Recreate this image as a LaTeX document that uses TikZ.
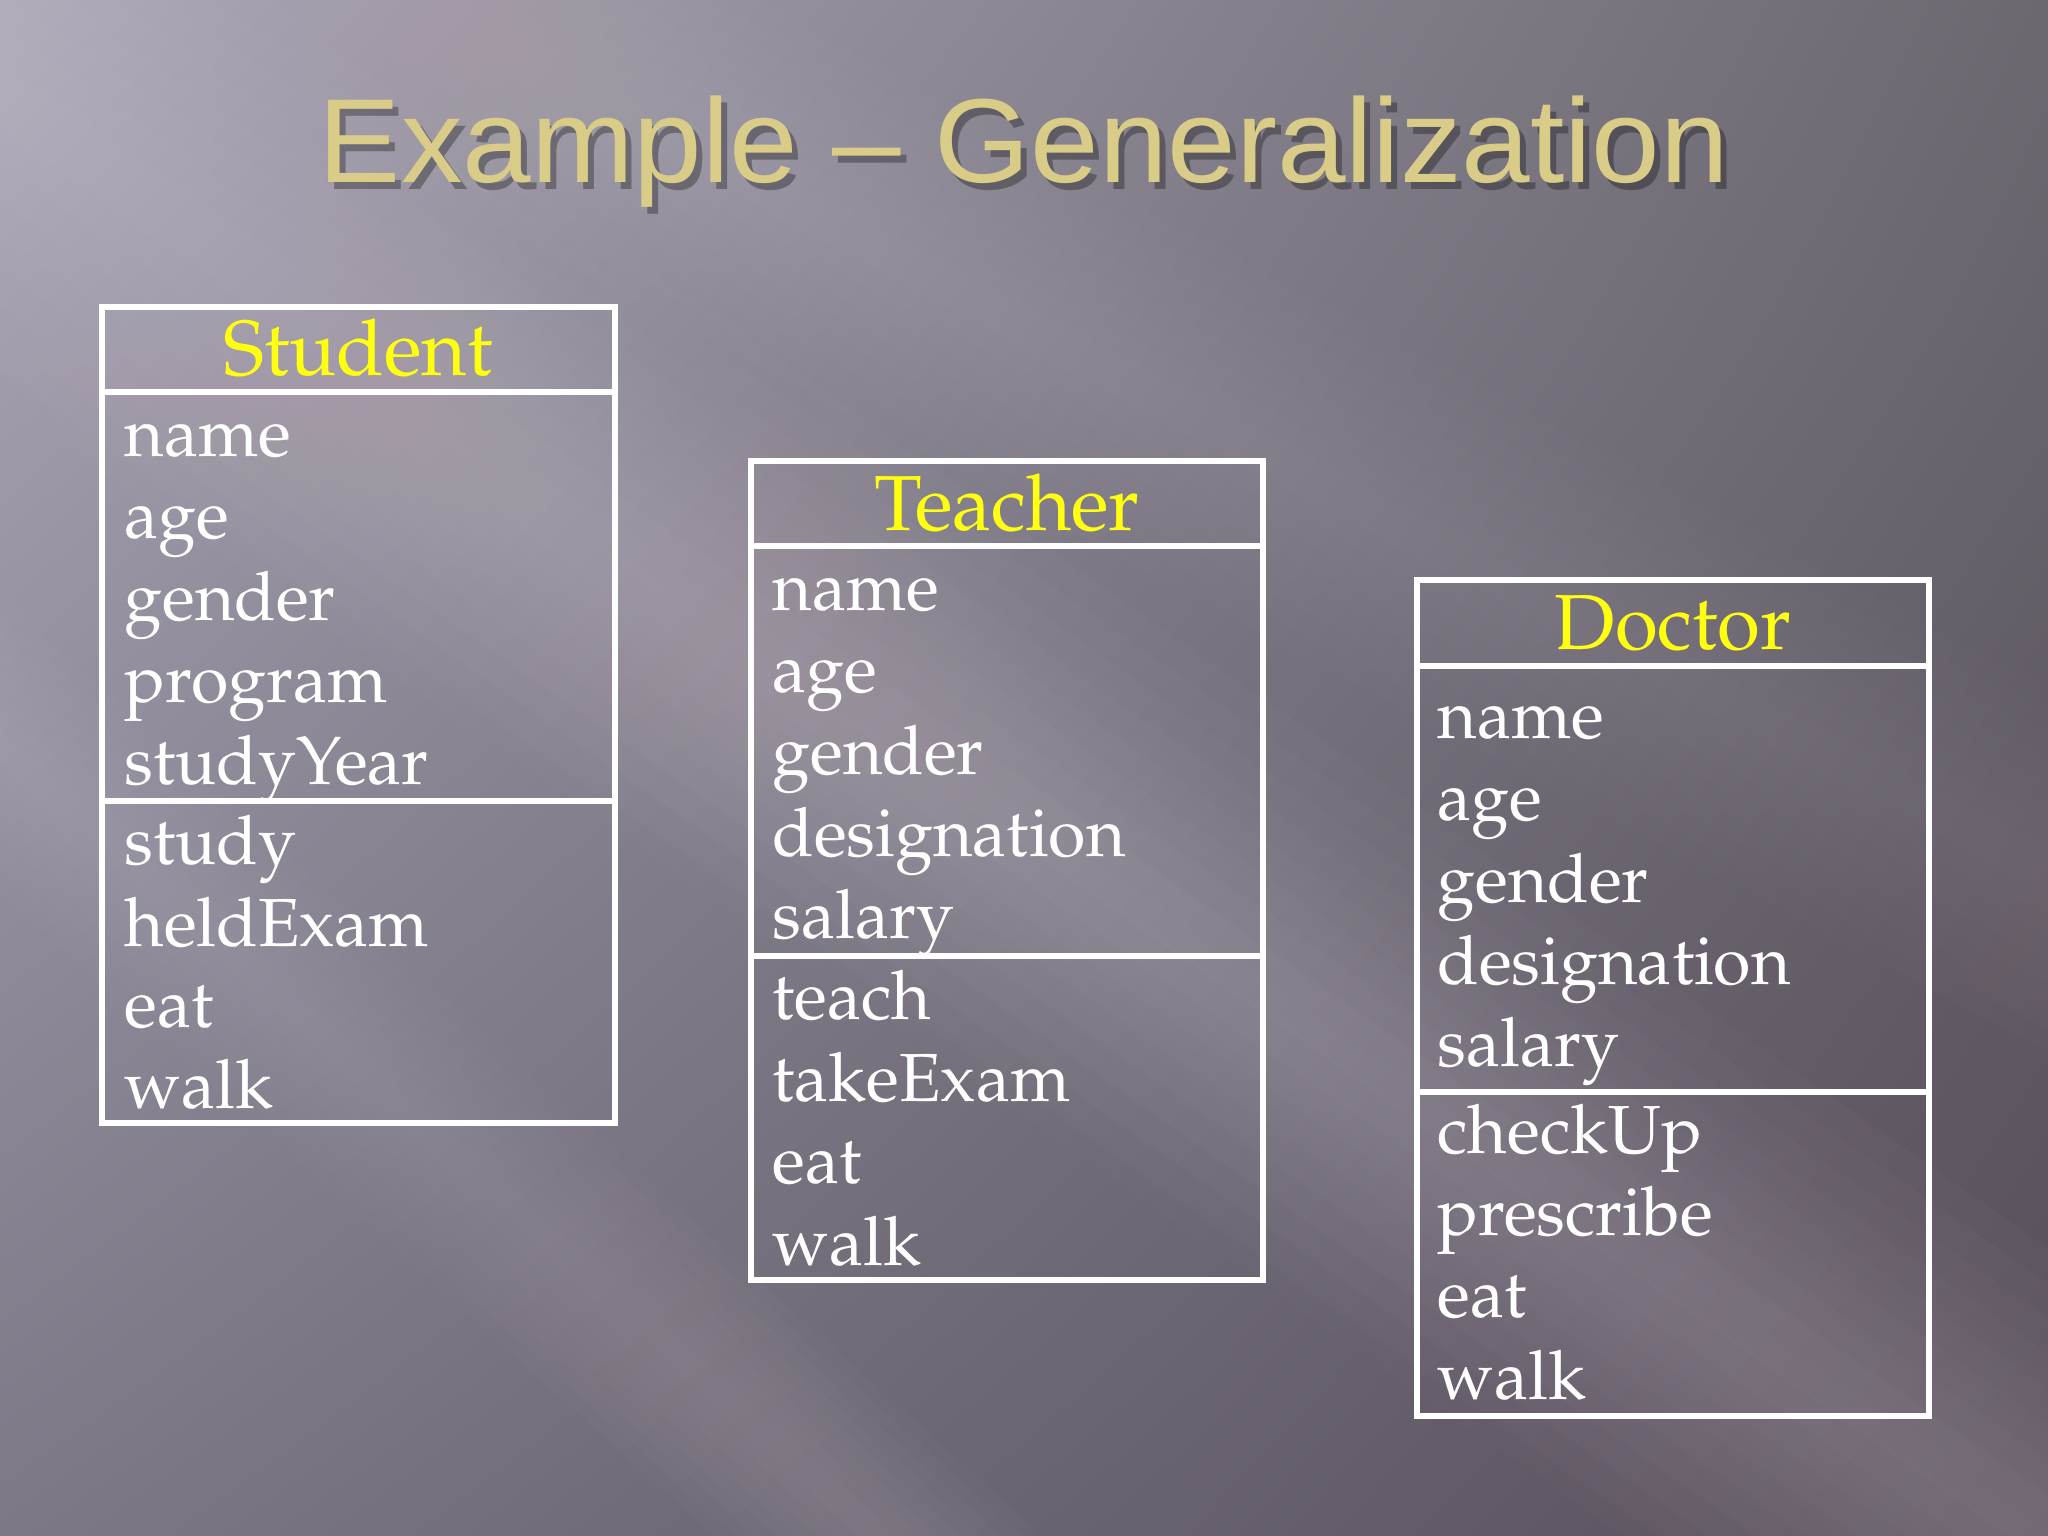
\documentclass[tikz,border=0pt]{standalone}
\usetikzlibrary{shadings}
\usepackage[T1]{fontenc}
\usepackage{fontspec}
\newfontfamily\titlefont{Liberation Sans}
\newcommand\pala{\fontencoding{T1}\fontfamily{ppl}\selectfont}
\definecolor{bgUL}{HTML}{ABA7B7}
\definecolor{bgUR}{HTML}{6C6870}
\definecolor{bgLL}{HTML}{7C7886}
\definecolor{bgLR}{HTML}{574E5A}
\definecolor{headyellow}{HTML}{FFFF10}
\definecolor{titlegold}{HTML}{D8CC88}
\definecolor{bandcol}{HTML}{E2D8E2}
\newcommand\lightband[6]{%
  \begin{scope}[shift={(#1,#2)}, rotate=#3]
    \foreach \k in {1,...,8}{\fill[bandcol,opacity=#6] (-#4,-#5*\k/8) rectangle (#4,#5*\k/8);}
  \end{scope}}
\begin{document}
\begin{tikzpicture}[x=0.01cm,y=-0.01cm,
  comp/.style={draw=white, line width=1.7pt, anchor=north west, inner sep=0pt, outer sep=0pt, minimum width=5.13cm},
  hd/.style={text=headyellow, font=\pala\fontsize{22.2}{26}\selectfont, anchor=base, inner sep=0pt},
  itm/.style={text=white, font=\pala\fontsize{19.35}{23}\selectfont, anchor=base west, inner sep=0pt},
  ttl/.style={font=\titlefont\fontsize{34}{40}\selectfont, anchor=base, inner sep=0pt}]
\useasboundingbox (0,0) rectangle (2048,1536);
\shade[upper left=bgUL, upper right=bgUR, lower left=bgLL, lower right=bgLR] (0,0) rectangle (2048,1536);
\begin{scope}
\clip (0,0) rectangle (2048,1536);
\lightband{750}{620}{-35}{3000}{230}{0.022}
\lightband{450}{1150}{-42}{3000}{110}{0.02}
\lightband{900}{260}{-28}{3000}{160}{0.016}
\lightband{250}{330}{-35}{3000}{200}{0.015}
\end{scope}

% title with shadow
\node[ttl, text=black, opacity=0.3] (tshadow) at (1030,189) {\scalebox{1.03}[1]{Example – Generalization}};
\node[ttl, text=titlegold] (title) at (1024,182) {\scalebox{1.03}[1]{Example – Generalization}};

% Student
\node[comp, minimum height=0.85cm] (sH) at (102,307) {};
\node[comp, minimum height=4.09cm] (sA) at (102,392) {};
\node[comp, minimum height=3.22cm] (sO) at (102,801) {};
\node[hd] (sT) at (358,375) {Student};
\node[itm] (s1) at (124,456) {name};
\node[itm] (s2) at (124,538) {age};
\node[itm] (s3) at (124,620) {gender};
\node[itm] (s4) at (124,702) {program};
\node[itm] (s5) at (124,784) {studyYear};
\node[itm] (s6) at (124,864) {study};
\node[itm] (s7) at (124,946) {heldExam};
\node[itm] (s8) at (124,1027) {eat};
\node[itm] (s9) at (124,1108) {walk};

% Teacher
\node[comp, minimum width=5.12cm, minimum height=0.85cm] (tH) at (751,461) {};
\node[comp, minimum width=5.12cm, minimum height=4.10cm] (tA) at (751,546) {};
\node[comp, minimum width=5.12cm, minimum height=3.24cm] (tO) at (751,956) {};
\node[hd] (tT) at (1007,530) {Teacher};
\node[itm] (t1) at (772,610) {name};
\node[itm] (t2) at (772,692) {age};
\node[itm] (t3) at (772,774) {gender};
\node[itm] (t4) at (772,856) {designation};
\node[itm] (t5) at (772,938) {salary};
\node[itm] (t6) at (772,1019) {teach};
\node[itm] (t7) at (772,1101) {takeExam};
\node[itm] (t8) at (772,1183) {eat};
\node[itm] (t9) at (772,1265) {walk};

% Doctor
\node[comp, minimum width=5.12cm, minimum height=0.86cm] (dH) at (1417,580) {};
\node[comp, minimum width=5.12cm, minimum height=4.26cm] (dA) at (1417,666) {};
\node[comp, minimum width=5.12cm, minimum height=3.24cm] (dO) at (1417,1092) {};
\node[hd] (dT) at (1673,649) {Doctor};
\node[itm] (d1) at (1437,738) {name};
\node[itm] (d2) at (1437,820) {age};
\node[itm] (d3) at (1437,902) {gender};
\node[itm] (d4) at (1437,984) {designation};
\node[itm] (d5) at (1437,1066) {salary};
\node[itm] (d6) at (1437,1153) {checkUp};
\node[itm] (d7) at (1437,1235) {prescribe};
\node[itm] (d8) at (1437,1317) {eat};
\node[itm] (d9) at (1437,1399) {walk};
\end{tikzpicture}
\end{document}
